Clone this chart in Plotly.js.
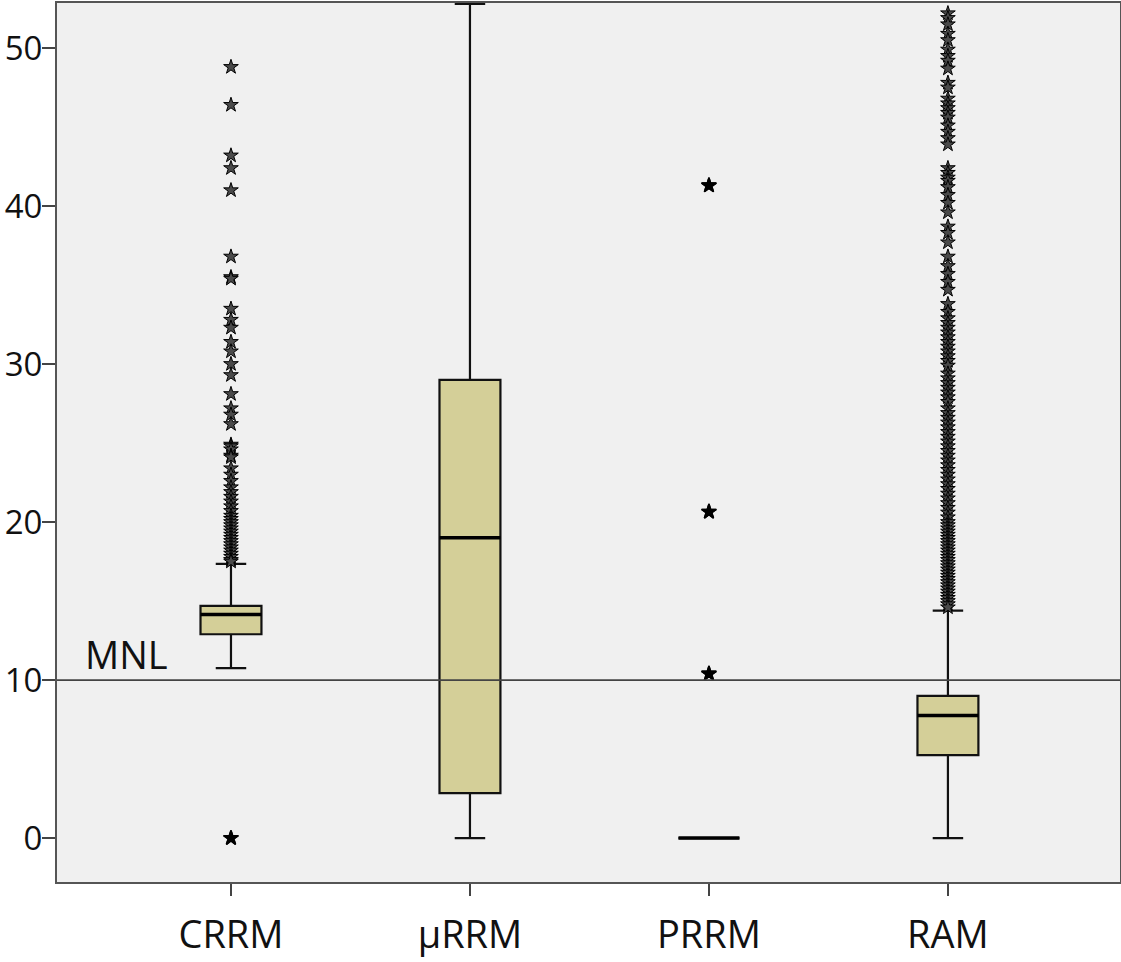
<!DOCTYPE html>
<html>
<head>
<meta charset="utf-8">
<script src="https://cdn.plot.ly/plotly-3.0.1.min.js"></script>
<style>html,body{margin:0;padding:0;background:#fff;}#chart{width:1121px;height:962px;}</style>
</head>
<body>
<div id="chart"></div>
<script>
const categories = ['CRRM', 'μRRM', 'PRRM', 'RAM'];
const q1 = [12.9, 2.85, 0, 5.25];
const medians = [14.15, 19.0, 0, 7.75];
const q3 = [14.7, 29.0, 0, 9.0];
const lowerFence = [10.75, 0, 0, 0];
const upperFence = [17.35, 52.8, 0, 14.4];

const crrmOutliers = [48.8, 46.4, 43.2, 42.4, 41.0, 36.8, 35.5, 35.4, 33.5, 32.8, 32.3, 31.4, 30.8,
  30.0, 29.3, 28.1, 27.2, 26.8, 26.2, 24.9, 24.8, 24.6, 24.2, 24.1, 23.4, 23.0, 22.6, 22.2, 21.9,
  21.6, 21.3, 21.0, 20.7, 20.4, 20.2, 20.0, 19.8, 19.6, 19.4, 19.2, 19.0, 18.8, 18.6, 18.4, 18.2,
  18.0, 17.8, 17.6, 17.5];
const crrmExtremeLow = [0, 0];
const prrmOutliers = [41.3, 41.3, 20.65, 20.65, 10.4, 10.4];
const ramOutliers = [52.2, 51.9, 51.5, 50.9, 50.5, 49.9, 49.5, 49.2, 48.7, 47.8, 47.5, 46.8, 46.5,
  46.2, 45.9, 45.6, 45.1, 44.7, 44.3, 43.9, 42.4, 42.1, 41.8, 41.6, 41.2, 40.7, 40.2, 39.6, 38.7,
  38.3, 37.7, 36.8, 36.2, 35.7, 35.2, 34.7, 33.8, 33.3, 32.9, 32.6, 32.3, 32.0, 31.7, 31.4, 31.1,
  30.8, 30.5, 30.2, 29.9, 29.4, 29.1, 28.8, 28.5, 28.2, 27.9, 27.6, 27.2, 26.9, 26.6, 26.3, 26.0,
  25.7, 25.4, 25.1, 24.8, 24.5, 24.2, 23.9, 23.6, 23.3, 23.0, 22.7, 22.4, 22.1, 21.8, 21.5, 21.2,
  20.9, 20.6, 20.3, 20.0, 19.8, 19.6, 19.4, 19.2, 19.0, 18.8, 18.6, 18.4, 18.2, 18.0, 17.8, 17.6,
  17.4, 17.2, 17.0, 16.8, 16.6, 16.4, 16.2, 16.0, 15.8, 15.6, 15.4, 15.2, 15.0, 14.8, 14.6];
const yTicks = [0, 10, 20, 30, 40, 50];
const mnlValue = 10;
const mnlLabel = 'MNL';

const boxWidth = 0.255;
const FONT = 'Open Sans, Noto Sans, sans-serif';

const starMarker = {symbol: 'star', size: 11, color: '#4a4a4a', line: {color: '#000', width: 1}};
const boldStar = {symbol: 'star', size: 11, color: '#000', line: {color: '#000', width: 1.5}};

function rep(cat, arr) { return arr.map(() => cat); }

const traces = [
  {
    type: 'box',
    x: categories,
    q1: q1, median: medians, q3: q3,
    lowerfence: lowerFence, upperfence: upperFence,
    boxpoints: false,
    width: boxWidth,
    whiskerwidth: 0.5,
    fillcolor: '#d4cf98',
    line: {color: '#111', width: 2.2},
    hoverinfo: 'skip',
    showlegend: false
  },
  {type: 'scatter', mode: 'markers', x: rep(categories[0], crrmOutliers), y: crrmOutliers, marker: starMarker, showlegend: false},
  {type: 'scatter', mode: 'markers', x: rep(categories[0], crrmExtremeLow), y: crrmExtremeLow, marker: boldStar, showlegend: false},
  {type: 'scatter', mode: 'markers', x: rep(categories[2], prrmOutliers), y: prrmOutliers, marker: boldStar, showlegend: false},
  {type: 'scatter', mode: 'markers', x: rep(categories[3], ramOutliers), y: ramOutliers, marker: starMarker, showlegend: false}
];

const shapes = [
  {type: 'line', xref: 'paper', x0: 0, x1: 1, yref: 'y', y0: mnlValue, y1: mnlValue,
   line: {color: '#444', width: 1.8}, layer: 'above'}
];
medians.forEach((m, i) => {
  shapes.push({type: 'line', xref: 'x', yref: 'y', x0: i - boxWidth / 2, x1: i + boxWidth / 2,
    y0: m, y1: m, line: {color: '#000', width: 3.5}, layer: 'above'});
});

const layout = {
  width: 1121, height: 962,
  margin: {l: 57, r: 1, t: 3, b: 80},
  paper_bgcolor: '#ffffff',
  plot_bgcolor: '#f0f0f0',
  font: {family: FONT, size: 36, color: '#111'},
  showlegend: false,
  xaxis: {
    type: 'category',
    categoryorder: 'array', categoryarray: categories,
    range: [-0.728, 3.72],
    showgrid: false, zeroline: false,
    showline: true, linecolor: '#555', linewidth: 2, mirror: true,
    ticks: 'outside', ticklen: 12, tickwidth: 1.8, tickcolor: '#444',
    tickfont: {family: FONT, size: 38, color: '#111'},
    ticklabelstandoff: 6,
    automargin: false
  },
  yaxis: {
    range: [-2.78, 52.85],
    tickvals: yTicks,
    ticktext: yTicks.map(String),
    showgrid: false, zeroline: false,
    showline: true, linecolor: '#555', linewidth: 2, mirror: true,
    ticks: 'outside', ticklen: 13, tickwidth: 1.8, tickcolor: '#444',
    tickfont: {family: FONT, size: 33, color: '#111'},
    ticklabelstandoff: -7,
    automargin: false
  },
  shapes: shapes,
  annotations: [
    {xref: 'paper', yref: 'y', x: 0.024, y: mnlValue, xanchor: 'left', yanchor: 'bottom',
     text: mnlLabel, showarrow: false, font: {family: FONT, size: 38, color: '#111'}, yshift: -2}
  ]
};

Plotly.newPlot('chart', traces, layout, {displayModeBar: false, staticPlot: true});
</script>
</body>
</html>
